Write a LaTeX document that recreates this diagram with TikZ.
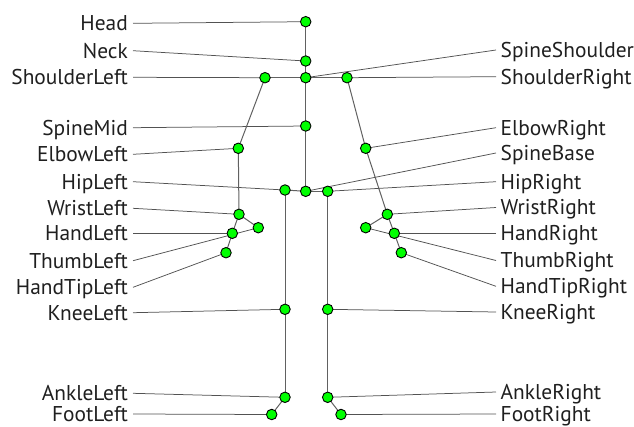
\documentclass[tikz,border=0pt]{standalone}
\usepackage{fontspec}
\setmainfont{PT Sans}
\usetikzlibrary{backgrounds}
\definecolor{jointgreen}{RGB}{0,255,0}
\begin{document}
\begin{tikzpicture}[x=1pt,y=-1pt,
  joint/.style={circle,draw=black,fill=jointgreen,line width=0.9pt,minimum size=10.5pt,inner sep=0pt},
  bone/.style={draw=black!62,line width=1pt},
  lead/.style={draw=black!68,line width=0.75pt},
  lbl/.style={font=\fontsize{21.4}{21.4}\selectfont,text=black!88,inner ysep=0pt,text height=14.6pt,text depth=0pt},
  ll/.style={lbl,anchor=east,inner xsep=5pt},
  rl/.style={lbl,anchor=west,inner xsep=4.5pt}]
\useasboundingbox (0,0) rectangle (634,426);
% joints
\node[joint] (Head) at (305.7,21.7) {};
\node[joint] (Neck) at (305.7,61) {};
\node[joint] (SpineShoulder) at (305.7,77.7) {};
\node[joint] (ShoulderLeft) at (265,77.7) {};
\node[joint] (ShoulderRight) at (347,77.7) {};
\node[joint] (SpineMid) at (305.7,126) {};
\node[joint] (ElbowLeft) at (238.3,148.3) {};
\node[joint] (ElbowRight) at (365.7,148.3) {};
\node[joint] (HipLeft) at (285,190) {};
\node[joint] (SpineBase) at (305.7,191.3) {};
\node[joint] (HipRight) at (327.7,191.3) {};
\node[joint] (WristLeft) at (239,214.3) {};
\node[joint] (ThumbLeft) at (258.3,227.7) {};
\node[joint] (HandLeft) at (232.3,233.3) {};
\node[joint] (HandTipLeft) at (226,252.7) {};
\node[joint] (WristRight) at (387.3,214.3) {};
\node[joint] (ThumbRight) at (365.7,227.7) {};
\node[joint] (HandRight) at (394.3,233.3) {};
\node[joint] (HandTipRight) at (401.3,252.7) {};
\node[joint] (KneeLeft) at (285,309.3) {};
\node[joint] (KneeRight) at (327.7,309.3) {};
\node[joint] (AnkleLeft) at (285,397.3) {};
\node[joint] (AnkleRight) at (327.7,397.3) {};
\node[joint] (FootLeft) at (271.7,414.5) {};
\node[joint] (FootRight) at (341,414.5) {};
% left labels
\node[ll] (lHead) at (133,23.3) {Head};
\node[ll] (lNeck) at (133,50.7) {Neck};
\node[ll] (lShoulderLeft) at (133,77.3) {ShoulderLeft};
\node[ll] (lSpineMid) at (133,127.7) {SpineMid};
\node[ll] (lElbowLeft) at (133,154.3) {ElbowLeft};
\node[ll] (lHipLeft) at (133,181.7) {HipLeft};
\node[ll] (lWristLeft) at (133,208.3) {WristLeft};
\node[ll] (lHandLeft) at (133,233.3) {HandLeft};
\node[ll] (lThumbLeft) at (133,260.7) {ThumbLeft};
\node[ll] (lHandTipLeft) at (133,287.3) {HandTipLeft};
\node[ll] (lKneeLeft) at (133,312.7) {KneeLeft};
\node[ll] (lAnkleLeft) at (133,393.3) {AnkleLeft};
\node[ll] (lFootLeft) at (133,414) {FootLeft};
% right labels
\node[rl] (lSpineShoulder) at (496,50) {SpineShoulder};
\node[rl] (lShoulderRight) at (496,76.7) {ShoulderRight};
\node[rl] (lElbowRight) at (496,127.7) {ElbowRight};
\node[rl] (lSpineBase) at (496,153) {SpineBase};
\node[rl] (lHipRight) at (496,181.7) {HipRight};
\node[rl] (lWristRight) at (496,207.5) {WristRight};
\node[rl] (lHandRight) at (496,233.3) {HandRight};
\node[rl] (lThumbRight) at (496,260.5) {ThumbRight};
\node[rl] (lHandTipRight) at (496,286.3) {HandTipRight};
\node[rl] (lKneeRight) at (496,312) {KneeRight};
\node[rl] (lAnkleRight) at (496,392) {AnkleRight};
\node[rl] (lFootRight) at (496,414) {FootRight};
\begin{scope}[on background layer]
% leader lines
\foreach \j in {Head,Neck,ShoulderLeft,SpineMid,ElbowLeft,HipLeft,WristLeft,HandLeft,ThumbLeft,HandTipLeft,KneeLeft,AnkleLeft,FootLeft}
  \draw[lead] (l\j.east) -- (\j.center);
\foreach \j in {SpineShoulder,ShoulderRight,ElbowRight,SpineBase,HipRight,WristRight,HandRight,ThumbRight,HandTipRight,KneeRight,AnkleRight,FootRight}
  \draw[lead] (l\j.west) -- (\j.center);
% bones
\foreach \a/\b in {Head/Neck,Neck/SpineShoulder,SpineShoulder/ShoulderLeft,SpineShoulder/ShoulderRight,SpineShoulder/SpineMid,SpineMid/SpineBase,
  ShoulderLeft/ElbowLeft,ElbowLeft/WristLeft,WristLeft/HandLeft,WristLeft/ThumbLeft,HandLeft/HandTipLeft,
  ShoulderRight/ElbowRight,ElbowRight/WristRight,WristRight/HandRight,WristRight/ThumbRight,HandRight/HandTipRight,
  SpineBase/HipLeft,SpineBase/HipRight,HipLeft/KneeLeft,KneeLeft/AnkleLeft,AnkleLeft/FootLeft,
  HipRight/KneeRight,KneeRight/AnkleRight,AnkleRight/FootRight}
  \draw[bone] (\a.center) -- (\b.center);
\end{scope}
\end{tikzpicture}
\end{document}
